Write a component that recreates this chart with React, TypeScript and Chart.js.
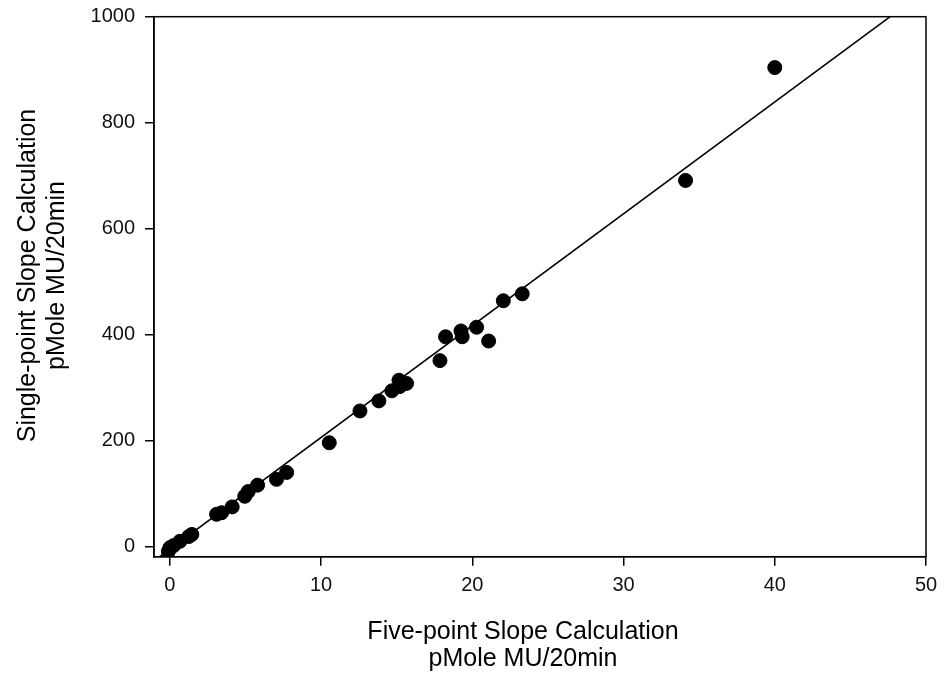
import React, { useEffect, useRef } from "react";
import { Chart, registerables } from "chart.js";

Chart.register(...registerables);

// ---- data ----
const fivePoint: number[] = [
  40.0, 34.1, 23.3, 22.05, 21.08, 20.28, 19.33, 19.25, 18.23, 17.86,
  15.65, 15.2, 15.15, 14.68, 13.82, 12.57, 10.54, 7.72, 7.05, 5.8,
  5.18, 4.95, 4.12, 3.42, 3.09, 1.45, 1.25, 0.66, 0.25, 0.0, -0.1,
];
const singlePoint: number[] = [
  904, 691, 477, 464, 388, 414, 396, 407, 396, 351,
  308, 302, 314, 294, 275, 256, 196, 140, 127, 116,
  104, 95, 75, 64, 61, 23, 19, 10, 2, -2, -9,
];
const fitSlope = 21.1;
const fitIntercept = -5;
const xTicks: number[] = [0, 10, 20, 30, 40, 50];
const yTicks: number[] = [0, 200, 400, 600, 800, 1000];
const xTitleLines: string[] = ["Five-point Slope Calculation", "pMole MU/20min"];
const yTitleLines: string[] = ["Single-point Slope Calculation", "pMole MU/20min"];

const FONT = '"Liberation Sans", Arial, Helvetica, sans-serif';

const framePlugin = {
  id: "frameAndTitles",
  afterDraw(chart: any) {
    const { ctx, chartArea } = chart;
    ctx.save();
    ctx.strokeStyle = "#000";
    ctx.lineWidth = 1.5;
    ctx.strokeRect(
      chartArea.left,
      chartArea.top,
      chartArea.right - chartArea.left,
      chartArea.bottom - chartArea.top
    );
    ctx.fillStyle = "#000";
    ctx.font = `25px ${FONT}`;
    ctx.textAlign = "center";
    ctx.textBaseline = "middle";
    // x title
    xTitleLines.forEach((t, i) => {
      ctx.fillText(t, 523, 632 + i * 27);
    });
    // y title
    yTitleLines.forEach((t, i) => {
      ctx.save();
      ctx.translate(28.5 + i * 29, 275.5);
      ctx.rotate(-Math.PI / 2);
      ctx.fillText(t, 0, 0);
      ctx.restore();
    });
    ctx.restore();
  },
};

export default function App() {
  const ref = useRef<HTMLCanvasElement | null>(null);

  useEffect(() => {
    if (!ref.current) return;
    const yMin = -19;
    const yMax = 1000;
    const lineData = [
      { x: (yMin - fitIntercept) / fitSlope, y: yMin },
      { x: (yMax - fitIntercept) / fitSlope, y: yMax },
    ];
    const points = fivePoint.map((x, i) => ({ x, y: singlePoint[i] }));

    const chart = new Chart(ref.current, {
      type: "scatter",
      data: {
        datasets: [
          {
            type: "line",
            data: lineData,
            borderColor: "#000",
            borderWidth: 1.6,
            pointRadius: 0,
            showLine: true,
            fill: false,
          } as any,
          {
            data: points,
            backgroundColor: "#000",
            borderColor: "#000",
            borderWidth: 1,
            pointRadius: 7,
            pointHoverRadius: 7,
          },
        ],
      },
      plugins: [framePlugin],
      options: {
        animation: false,
        responsive: false,
        events: [],
        layout: { padding: { top: 16.7, right: 15, left: 0, bottom: 0 } },
        plugins: {
          legend: { display: false },
          tooltip: { enabled: false },
        },
        scales: {
          x: {
            type: "linear",
            min: -1.05,
            max: 50,
            afterBuildTicks: (s: any) => {
              s.ticks = xTicks.map((v) => ({ value: v }));
            },
            afterFit: (s: any) => {
              s.height = 118.3;
              s.paddingLeft = 0;
              s.paddingRight = 0;
            },
            ticks: {
              font: { family: FONT, size: 20 },
              color: "#111",
              padding: 8,
              maxRotation: 0,
              callback: (v: any) => String(v),
            },
            grid: {
              drawOnChartArea: false,
              drawTicks: true,
              tickLength: 9,
              color: "#000",
              lineWidth: 1.5,
            },
            border: { display: true, color: "#000", width: 1.5 },
          },
          y: {
            type: "linear",
            min: yMin,
            max: yMax,
            afterBuildTicks: (s: any) => {
              s.ticks = yTicks.map((v) => ({ value: v }));
            },
            afterFit: (s: any) => {
              s.width = 154;
              s.paddingTop = 0;
              s.paddingBottom = 0;
            },
            ticks: {
              font: { family: FONT, size: 20 },
              color: "#111",
              padding: 10,
              callback: (v: any) => String(v),
            },
            grid: {
              drawOnChartArea: false,
              drawTicks: true,
              tickLength: 9,
              color: "#000",
              lineWidth: 1.5,
            },
            border: { display: true, color: "#000", width: 1.5 },
          },
        },
      } as any,
    });
    return () => chart.destroy();
  }, []);

  return (
    <div style={{ position: "absolute", left: 0, top: 0, width: 941, height: 675, background: "#fff" }}>
      <canvas ref={ref} width={941} height={675} style={{ width: 941, height: 675 }} />
    </div>
  );
}
